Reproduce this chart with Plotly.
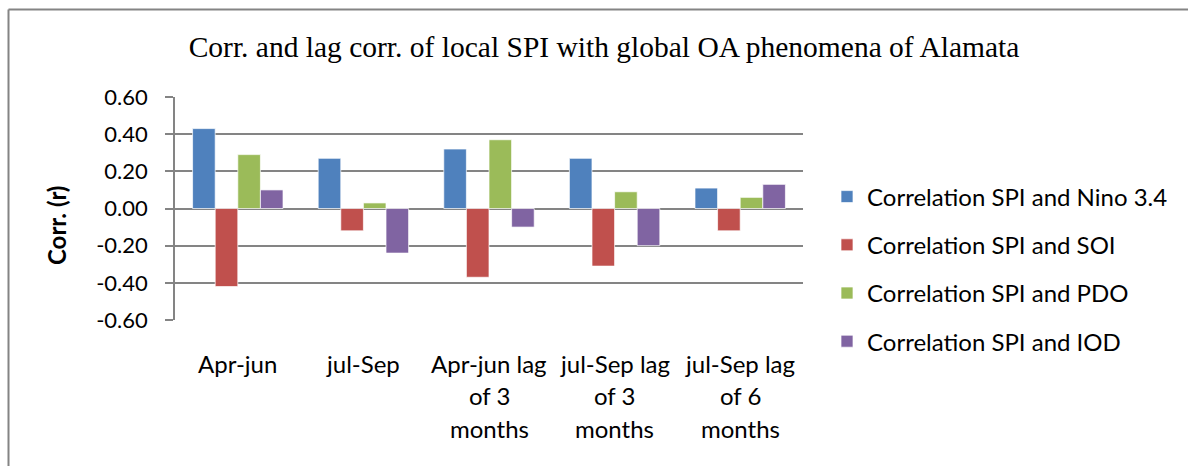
import plotly.graph_objects as go

# Seasons / lag windows on the x axis (label lines for the wrapped axis text)
categories = [
    "Apr-jun",
    "jul-Sep",
    "Apr-jun lag of 3 months",
    "jul-Sep lag of 3 months",
    "jul-Sep lag of 6 months",
]
category_lines = [
    ["Apr-jun"],
    ["jul-Sep"],
    ["Apr-jun lag", "of 3", "months"],
    ["jul-Sep lag", "of 3", "months"],
    ["jul-Sep lag", "of 6", "months"],
]

# Correlation coefficients of local SPI with each index
nino34 = [0.43, 0.27, 0.32, 0.27, 0.11]
soi = [-0.42, -0.12, -0.37, -0.31, -0.12]
pdo = [0.29, 0.03, 0.37, 0.09, 0.06]
iod = [0.10, -0.24, -0.10, -0.20, 0.13]

series_names = [
    "Correlation SPI and Nino 3.4",
    "Correlation SPI and SOI",
    "Correlation SPI and PDO",
    "Correlation SPI and IOD",
]
series_values = [nino34, soi, pdo, iod]
series_colors = ["#4F81BD", "#C0504D", "#9BBB59", "#8064A2"]

y_ticks = [0.6, 0.4, 0.2, 0.0, -0.2, -0.4, -0.6]

LABEL_FONT = "Lato, 'Open Sans', sans-serif"
GRID = "#848484"

# plot-area edges in pixels
L, R, T, B = 175, 803, 97, 320
W, H = R - L, B - T


def px_x(p):
    return (p - L) / W


def px_y(p):
    return (B - p) / H


fig = go.Figure()
for i, (name, vals, col) in enumerate(zip(series_names, series_values, series_colors)):
    fig.add_trace(go.Bar(
        x=categories, y=vals, name=name,
        marker=dict(color=col, line=dict(color="rgba(255,255,255,0.7)", width=1)),
        legendgroup=f"g{i}",
    ))

# wrapped category labels beneath the axis, one line per annotation
line_step = 32.5
for cat, lines in zip(categories, category_lines):
    for k, txt in enumerate(lines):
        fig.add_annotation(
            x=cat, xref="x", y=0, yref="paper",
            yanchor="middle", yshift=-43 - k * line_step,
            text=txt, showarrow=False,
            font=dict(family=LABEL_FONT, size=24, color="#000"),
        )

# y-axis title, placed left of the tick labels
fig.add_annotation(
    x=0, xref="paper", y=px_y(226), yref="paper",
    xanchor="center", yanchor="middle", xshift=56 - L,
    text="<b>Corr. (r)</b>", showarrow=False, textangle=-90,
    font=dict(family=LABEL_FONT, size=24, color="#000"),
)

# outer chart frame (top and left edges)
fig.add_shape(type="line", xref="paper", yref="paper",
              x0=px_x(8.5), x1=px_x(8.5), y0=px_y(470), y1=px_y(9.5),
              line=dict(color=GRID, width=2))
fig.add_shape(type="line", xref="paper", yref="paper",
              x0=px_x(8.5), x1=px_x(1195), y0=px_y(9.5), y1=px_y(9.5),
              line=dict(color=GRID, width=2))

fig.update_layout(
    width=1188, height=466,
    margin=dict(l=L, r=1188 - R, t=T, b=466 - B, pad=0),
    paper_bgcolor="white", plot_bgcolor="white",
    barmode="group", bargap=0.28, bargroupgap=0,
    title=dict(
        text="Corr. and lag corr. of local SPI with global OA phenomena of Alamata",
        x=604 / 1188, xref="container", xanchor="center",
        y=1 - 47 / 466, yref="container", yanchor="middle",
        font=dict(family="'Liberation Serif', 'Times New Roman', serif", size=29.5, color="#000"),
    ),
    legend=dict(
        x=px_x(827), xanchor="left", y=px_y(174.5), yanchor="top",
        font=dict(family=LABEL_FONT, size=24, color="#000"),
        traceorder="grouped", tracegroupgap=14,
        bgcolor="rgba(0,0,0,0)", borderwidth=0,
    ),
    showlegend=True,
)

fig.update_xaxes(
    type="category", showticklabels=False, showgrid=False,
    showline=False, ticks="", zeroline=False,
)
fig.update_yaxes(
    range=[-0.6, 0.6], tickvals=y_ticks, ticktext=[f"{v:.2f}" for v in y_ticks],
    showgrid=True, gridcolor=GRID, gridwidth=1.5,
    zeroline=True, zerolinecolor=GRID, zerolinewidth=1.5,
    showline=True, linecolor=GRID, linewidth=1.5,
    ticks="outside", ticklen=8, tickcolor=GRID, tickwidth=1.5,
    ticklabelstandoff=13,
    tickfont=dict(family=LABEL_FONT, size=22, color="#000"),
)

fig.write_html("out.html")
